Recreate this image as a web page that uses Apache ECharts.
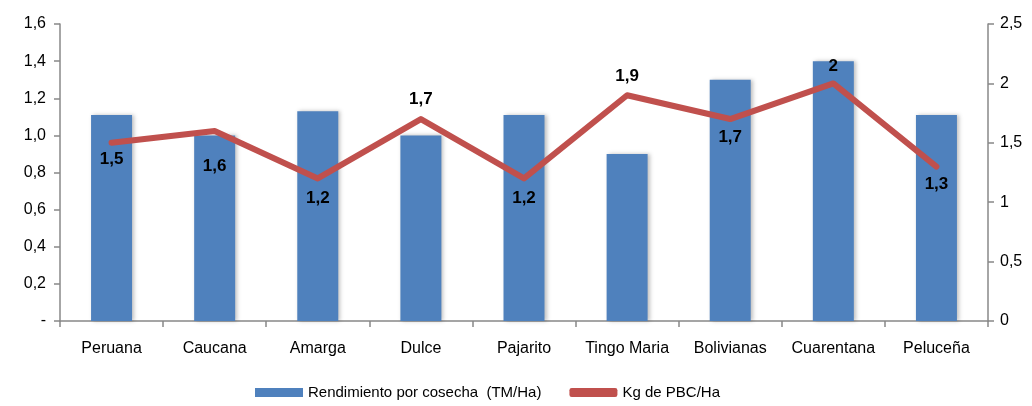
<!DOCTYPE html>
<html>
<head>
<meta charset="utf-8">
<script src="https://cdn.jsdelivr.net/npm/echarts@6/dist/echarts.min.js"></script>
<style>
  html, body { margin: 0; padding: 0; background: #fff; }
  #chart { width: 1032px; height: 406px; }
</style>
</head>
<body>
<div id="chart"></div>
<script>
// categories and values
const categories = ["Peruana", "Caucana", "Amarga", "Dulce", "Pajarito", "Tingo Maria", "Bolivianas", "Cuarentana", "Peluceña"];
const rendimiento = [1.11, 1.0, 1.13, 1.0, 1.11, 0.9, 1.3, 1.4, 1.11];
const kgPbc = [1.5, 1.6, 1.2, 1.7, 1.2, 1.9, 1.7, 2, 1.3];

// where each line label sits (style only)
const labelPos = ["bottom", "bottom", "bottom", "top", "bottom", "top", "bottom", "top", "bottom"];
const labelDist = [8, 26, 11, 11, 11, 10, 9, 8, 9];

const font = "'Liberation Sans', Arial, sans-serif";
const comma = v => String(v).replace(".", ",");

const myChart = echarts.init(document.getElementById("chart"));

const options = {
  animation: false,
  color: ["#4f81bd", "#c0504d"],
  textStyle: { fontFamily: font },
  legend: {
    top: 380,
    left: 250,
    itemWidth: 48,
    itemHeight: 9,
    itemGap: 28,
    textStyle: { fontFamily: font, fontSize: 15, color: "#000" },
    data: [
      { name: "Rendimiento por cosecha  (TM/Ha)", icon: "rect" },
      { name: "Kg de PBC/Ha", icon: "roundRect" }
    ]
  },
  grid: {
    top: 24,
    left: 60,
    right: 44,
    bottom: 85
  },
  xAxis: {
    type: "category",
    data: categories,
    axisLine: { lineStyle: { color: "#888", width: 1.5 } },
    axisTick: { show: true, length: 6, lineStyle: { color: "#888", width: 1.5 } },
    axisLabel: { color: "#000", fontSize: 16, margin: 20, fontFamily: font, interval: 0 }
  },
  yAxis: [
    {
      type: "value",
      min: 0,
      max: 1.6,
      interval: 0.2,
      splitLine: { show: false },
      axisLine: { show: true, lineStyle: { color: "#888", width: 1.5 } },
      axisTick: { show: true, length: 6, lineStyle: { color: "#888", width: 1.5 } },
      axisLabel: {
        color: "#000",
        fontSize: 16,
        margin: 14,
        fontFamily: font,
        formatter: function (v) {
          return v === 0 ? "-" : v.toFixed(1).replace(".", ",");
        }
      }
    },
    {
      type: "value",
      min: 0,
      max: 2.5,
      interval: 0.5,
      splitLine: { show: false },
      axisLine: { show: true, lineStyle: { color: "#888", width: 1.5 } },
      axisTick: { show: true, length: 6, lineStyle: { color: "#888", width: 1.5 } },
      axisLabel: {
        color: "#000",
        fontSize: 16,
        margin: 12,
        fontFamily: font,
        formatter: comma
      }
    }
  ],
  series: [
    {
      name: "Rendimiento por cosecha  (TM/Ha)",
      type: "bar",
      barWidth: 41,
      data: rendimiento,
      itemStyle: {
        color: "#4f81bd",
        shadowColor: "rgba(0,0,0,0.25)",
        shadowBlur: 4,
        shadowOffsetX: 2
      }
    },
    {
      name: "Kg de PBC/Ha",
      type: "line",
      yAxisIndex: 1,
      symbol: "circle",
      symbolSize: 1,
      showSymbol: true,
      itemStyle: { color: "#c0504d" },
      lineStyle: { width: 6, color: "#c0504d", cap: "round", join: "round" },
      data: kgPbc.map(function (v, i) {
        return {
          value: v,
          label: {
            show: true,
            position: labelPos[i],
            distance: labelDist[i],
            formatter: comma(v),
            fontWeight: "bold",
            fontSize: 17,
            color: "#000",
            fontFamily: font
          }
        };
      })
    }
  ]
};

myChart.setOption(options);
</script>
</body>
</html>
